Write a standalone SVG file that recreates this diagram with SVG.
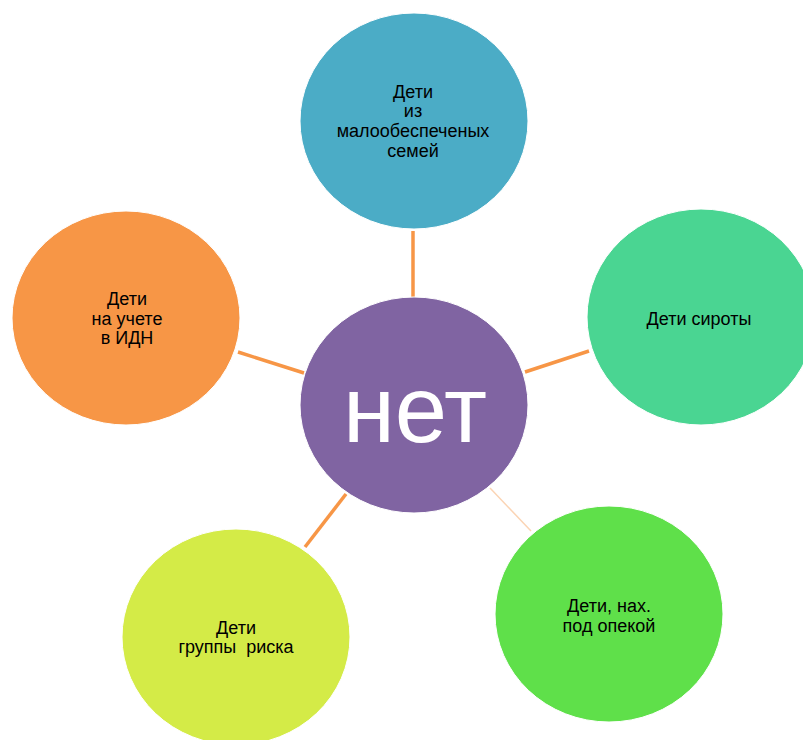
<svg xmlns="http://www.w3.org/2000/svg" width="803" height="740" viewBox="0 0 803 740">
<style>
.c{stroke:#ffffff;stroke-width:1}
.t{font-family:"Liberation Sans",Arial,sans-serif;font-size:18px;fill:#000000;text-anchor:middle}
.ln{stroke:#f79646;stroke-width:3.5;fill:none}
</style>
<rect width="803" height="740" fill="#ffffff"/>
<g id="connectors">
<line class="ln" x1="413" y1="231" x2="413" y2="297"/>
<line class="ln" x1="525" y1="372" x2="589" y2="351"/>
<line class="ln" x1="238" y1="352" x2="304" y2="373"/>
<line class="ln" x1="346" y1="494" x2="305" y2="547"/>
<line x1="490" y1="488" x2="531" y2="531" stroke="#fbd4b4" stroke-width="1.5"/>
</g>
<g id="node-top">
<ellipse class="c" cx="414" cy="121" rx="114" ry="108" fill="#4bacc6"/>
<text class="t" x="413" y="98">Дети</text>
<text class="t" x="413" y="117">из</text>
<text class="t" x="413" y="137">малообеспеченых</text>
<text class="t" x="413" y="157">семей</text>
</g>
<g id="node-right">
<ellipse class="c" cx="701" cy="317" rx="114" ry="108" fill="#4ad592"/>
<text class="t" x="699" y="325">Дети сироты</text>
</g>
<g id="node-left">
<ellipse class="c" cx="126" cy="318" rx="114" ry="107" fill="#f79646"/>
<text class="t" x="127" y="305">Дети</text>
<text class="t" x="127" y="325">на учете</text>
<text class="t" x="127" y="344">в ИДН</text>
</g>
<g id="node-bottom-left">
<ellipse class="c" cx="236" cy="637" rx="114" ry="108" fill="#d4eb47"/>
<text class="t" x="236" y="634">Дети</text>
<text class="t" x="236" y="653" xml:space="preserve">группы  риска</text>
</g>
<g id="node-bottom-right">
<ellipse class="c" cx="609" cy="614" rx="114" ry="108" fill="#5fe04a"/>
<text class="t" x="609" y="612">Дети, нах.</text>
<text class="t" x="609" y="632">под опекой</text>
</g>
<g id="node-center">
<ellipse class="c" cx="414" cy="405" rx="114" ry="108" fill="#8064a2"/>
<text x="415" y="442" font-family="Liberation Sans, Arial, sans-serif" font-size="94" fill="#ffffff" text-anchor="middle">нет</text>
</g>
</svg>
